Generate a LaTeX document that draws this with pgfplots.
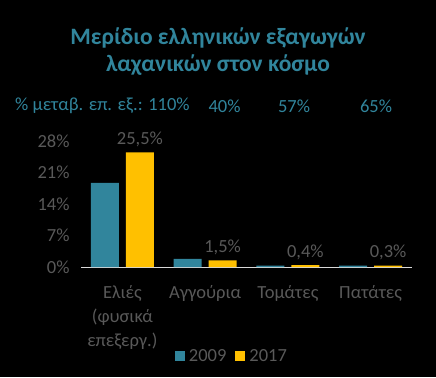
\documentclass[border=0pt]{standalone}
\usepackage{pgfplots}
\pgfplotsset{compat=1.18}
\usepackage{fontspec}
\setmainfont{Carlito}
\definecolor{teal1}{HTML}{31859C}
\definecolor{gold1}{HTML}{FFC000}
\definecolor{gtext}{HTML}{595959}
\begin{document}
\begin{tikzpicture}[x=1bp,y=1bp]
\useasboundingbox (-81,-110) rectangle (355,267);
\fill[black] (-81,-110) rectangle (355,267);
\node[text=teal1,font=\fontsize{23.5bp}{28bp}\selectfont\bfseries] at (137,229) {Μερίδιο ελληνικών εξαγωγών};
\node[text=teal1,font=\fontsize{23.5bp}{28bp}\selectfont\bfseries] at (137,202) {λαχανικών στον κόσμο};
\node[text=teal1,font=\fontsize{18.5bp}{22bp}\selectfont,anchor=west,inner sep=0] at (-66,161) {\% μεταβ. επ. εξ.: 110\%};
\node[text=teal1,font=\fontsize{18.5bp}{22bp}\selectfont] at (143.5,161) {40\%};
\node[text=teal1,font=\fontsize{18.5bp}{22bp}\selectfont] at (213,161) {57\%};
\node[text=teal1,font=\fontsize{18.5bp}{22bp}\selectfont] at (295,161) {65\%};
\begin{axis}[
  at={(0,0)}, anchor=south west,
  scale only axis, width=331bp, height=126bp,
  xmin=-0.5, xmax=3.5, ymin=0, ymax=28,
  ybar=7bp, bar width=28bp,
  xtick={0,1,2,3},
  xticklabels={{Ελιές\\(φυσικά\\επεξεργ.)},Αγγούρια,Τομάτες,Πατάτες},
  xticklabel style={align=center, text=gtext, font=\fontsize{18.5bp}{24bp}\selectfont, anchor=north, yshift=-15bp},
  ytick={0,7,14,21,28},
  yticklabel={\pgfmathprintnumber{\tick}\%},
  yticklabel style={text=gtext, font=\fontsize{18.5bp}{22bp}\selectfont, xshift=-8bp},
  /pgf/number format/assume math mode=true,
  major tick length=0pt,
  axis x line*=bottom,
  axis y line=left,
  y axis line style={draw=none},
  x axis line style={draw=white!85!black, line width=1pt, -},
  clip=false,
  legend style={at={(0.456,-0.706)}, anchor=center, draw=none, fill=none, text=gtext, font=\fontsize{18.5bp}{22bp}\selectfont, legend columns=2,
    /tikz/every odd column/.append style={column sep=2bp},
    /tikz/every even column/.append style={column sep=7bp}},
  legend image code/.code={\fill[#1] (0bp,-5bp) rectangle (10bp,5bp);},
]
\addplot[fill=teal1, draw=none] coordinates {(0,18.7) (1,1.8) (2,0.3) (3,0.3)};
\addplot[fill=gold1, draw=none,
  nodes near coords={\pgfmathprintnumber[fixed,fixed zerofill,precision=1,use comma]{\pgfplotspointmeta}\%},
  every node near coord/.append style={text=gtext, font=\fontsize{18.5bp}{22bp}\selectfont, yshift=2bp}
  ] coordinates {(0,25.5) (1,1.5) (2,0.4) (3,0.3)};
\legend{2009,2017}
\end{axis}
\end{tikzpicture}
\end{document}
